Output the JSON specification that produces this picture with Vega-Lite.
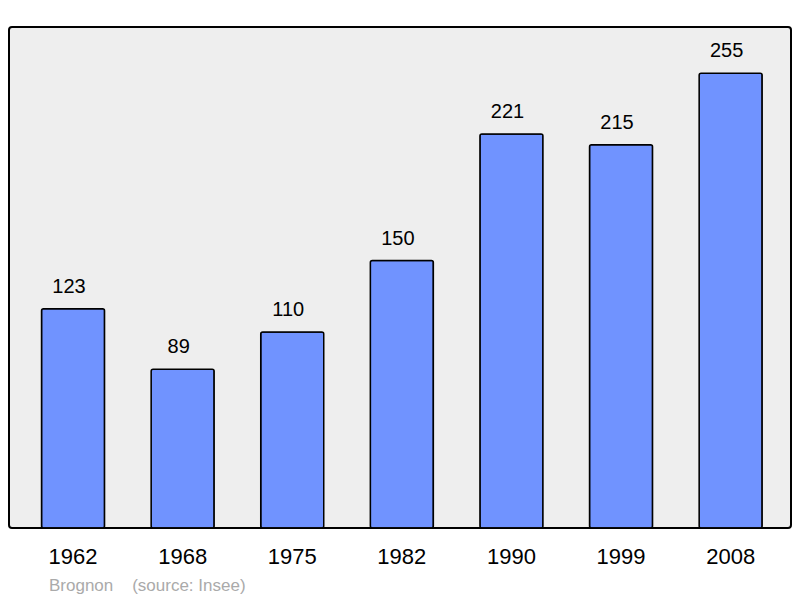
{
  "$schema": "https://vega.github.io/schema/vega-lite/v6.json",
  "width": 782,
  "height": 501,
  "autosize": {"type": "none"},
  "padding": {"left": 9, "top": 27, "right": 9, "bottom": 70},
  "background": "white",
  "config": {
    "font": "Liberation Sans",
    "view": {"fill": "#EEEEEE", "stroke": "#000000", "strokeWidth": 2, "cornerRadius": 3}
  },
  "title": {
    "text": "Brognon\u00a0\u00a0\u00a0\u00a0(source: Insee)",
    "orient": "bottom",
    "anchor": "start",
    "frame": "group",
    "dx": 40,
    "offset": 11,
    "fontSize": 17,
    "fontWeight": "normal",
    "color": "#AAAAAA",
    "font": "Liberation Sans"
  },
  "data": {
    "values": [
      {"year": "1962", "pop": 123},
      {"year": "1968", "pop": 89},
      {"year": "1975", "pop": 110},
      {"year": "1982", "pop": 150},
      {"year": "1990", "pop": 221},
      {"year": "1999", "pop": 215},
      {"year": "2008", "pop": 255}
    ]
  },
  "encoding": {
    "x": {
      "field": "year",
      "type": "ordinal",
      "scale": {"paddingInner": 0.425, "paddingOuter": 0.28, "align": 0.53},
      "axis": {
        "title": null,
        "domain": false,
        "ticks": false,
        "labelAngle": 0,
        "labelFontSize": 22,
        "labelColor": "#000000",
        "labelPadding": 18,
        "labelFont": "Liberation Sans"
      }
    },
    "y": {
      "field": "pop",
      "type": "quantitative",
      "scale": {"domain": [0, 281], "nice": false},
      "axis": null
    }
  },
  "layer": [
    {
      "mark": {"type": "bar", "fill": "#7093FF", "stroke": "#000000", "strokeWidth": 1.5, "cornerRadius": 2}
    },
    {
      "mark": {"type": "text", "baseline": "bottom", "dy": -12, "dx": -4, "fontSize": 20, "color": "#000000", "font": "Liberation Sans"},
      "encoding": {"text": {"field": "pop", "type": "quantitative"}}
    }
  ]
}
